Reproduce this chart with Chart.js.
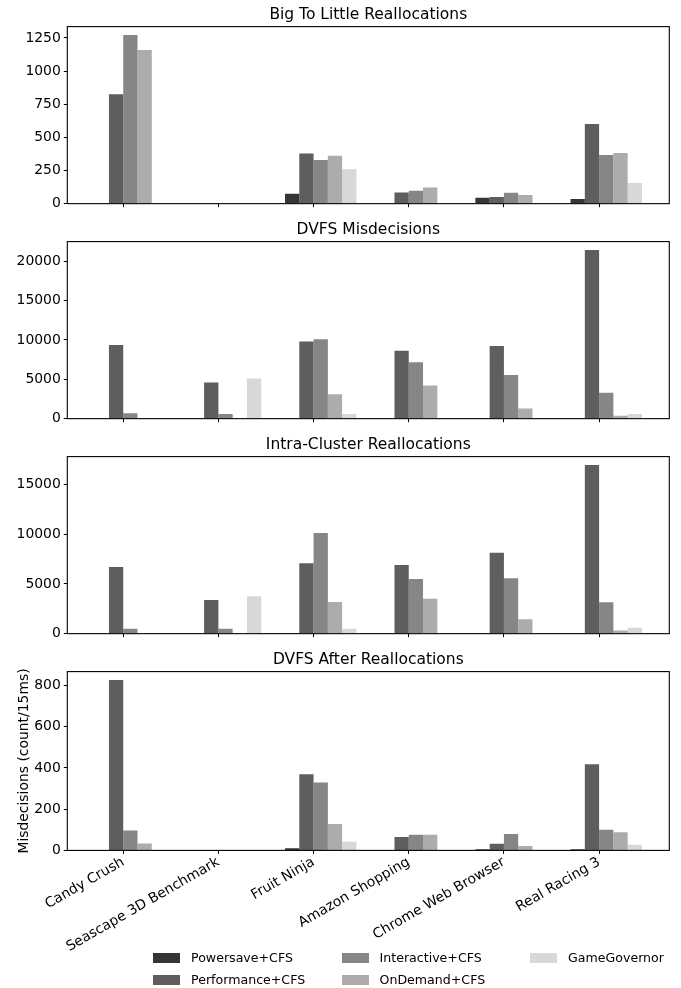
<!DOCTYPE html>
<html>
<head>
<meta charset="utf-8">
<script src="https://cdn.jsdelivr.net/npm/chart.js@4.4.1/dist/chart.umd.min.js"></script>
<style>
  body { margin: 0; background: #fff; font-family: "DejaVu Sans", sans-serif; }
  #page { position: relative; width: 681px; height: 988px; overflow: hidden; }
  canvas { position: absolute; left: 0; }
  .legend-item { position: absolute; height: 14px; font-size: 12.6px; color: #000; white-space: nowrap; }
  .legend-item span.sw { position: absolute; left: 0; top: 2px; width: 27px; height: 10px; }
  .legend-item span.tx { position: absolute; left: 38px; top: -2px; line-height: 18px; }
</style>
</head>
<body>
<div id="page">
  <canvas id="c0" width="681" height="215" style="top:0px"></canvas>
  <canvas id="c1" width="681" height="215" style="top:215px"></canvas>
  <canvas id="c2" width="681" height="215" style="top:430px"></canvas>
  <canvas id="c3" width="681" height="343" style="top:645px"></canvas>
  <div id="legend"></div>
</div>
<script>
(function () {
  const categories = ['Candy Crush', 'Seascape 3D Benchmark', 'Fruit Ninja', 'Amazon Shopping', 'Chrome Web Browser', 'Real Racing 3'];
  const seriesNames = ['Powersave+CFS', 'Performance+CFS', 'Interactive+CFS', 'OnDemand+CFS', 'GameGovernor'];
  const seriesColors = ['#353535', '#5e5e5e', '#868686', '#acacac', '#d8d8d8'];

  // Big To Little Reallocations
  const b2lPowersave   = [0, 0, 75, 0, 45, 35];
  const b2lPerformance = [826, 0, 379, 85, 50, 601];
  const b2lInteractive = [1272, 0, 329, 97, 82, 367];
  const b2lOnDemand    = [1160, 0, 362, 122, 65, 382];
  const b2lGame        = [0, 0, 259, 0, 0, 155];
  const b2lTicks       = [0, 250, 500, 750, 1000, 1250];

  // DVFS Misdecisions
  const dvfsPowersave   = [0, 0, 0, 0, 0, 0];
  const dvfsPerformance = [9350, 4590, 9810, 8640, 9230, 21420];
  const dvfsInteractive = [700, 580, 10100, 7180, 5550, 3300];
  const dvfsOnDemand    = [0, 0, 3090, 4220, 1290, 380];
  const dvfsGame        = [0, 5090, 580, 0, 0, 580];
  const dvfsTicks       = [0, 5000, 10000, 15000, 20000];

  // Intra-Cluster Reallocations
  const intraPowersave   = [0, 0, 0, 0, 0, 0];
  const intraPerformance = [6700, 3390, 7070, 6900, 8130, 16960];
  const intraInteractive = [500, 500, 10120, 5510, 5580, 3150];
  const intraOnDemand    = [0, 0, 3190, 3520, 1460, 330];
  const intraGame        = [0, 3750, 500, 0, 0, 600];
  const intraTicks       = [0, 5000, 10000, 15000];

  // DVFS After Reallocations
  const afterPowersave   = [0, 0, 10, 0, 6, 5];
  const afterPerformance = [826, 0, 369, 65, 32, 418];
  const afterInteractive = [96, 0, 329, 76, 79, 100];
  const afterOnDemand    = [34, 0, 128, 76, 21, 88];
  const afterGame        = [0, 0, 42, 0, 0, 28];
  const afterTicks       = [0, 200, 400, 600, 800];

  const panels = [
    { id: 'c0', title: 'Big To Little Reallocations', ticks: b2lTicks,
      series: [b2lPowersave, b2lPerformance, b2lInteractive, b2lOnDemand, b2lGame] },
    { id: 'c1', title: 'DVFS Misdecisions', ticks: dvfsTicks,
      series: [dvfsPowersave, dvfsPerformance, dvfsInteractive, dvfsOnDemand, dvfsGame] },
    { id: 'c2', title: 'Intra-Cluster Reallocations', ticks: intraTicks,
      series: [intraPowersave, intraPerformance, intraInteractive, intraOnDemand, intraGame] },
    { id: 'c3', title: 'DVFS After Reallocations', ticks: afterTicks, bottom: true,
      yLabel: 'Misdecisions (count/15ms)',
      series: [afterPowersave, afterPerformance, afterInteractive, afterOnDemand, afterGame] }
  ];

  const FONT = 'DejaVu Sans';
  Chart.defaults.font.family = FONT;
  Chart.defaults.color = '#000';

  const boxTop = 26.6;
  const boxHeight = 178.8;
  const axisWidth = 67.3;

  // frame round the plot area + panel title
  const framePlugin = {
    id: 'frame',
    afterDraw(chart, args, opts) {
      const { ctx, chartArea: a } = chart;
      ctx.save();
      ctx.strokeStyle = '#000';
      ctx.lineWidth = 1.1;
      ctx.strokeRect(a.left, a.top, a.right - a.left, a.bottom - a.top);
      ctx.fillStyle = '#000';
      ctx.font = '15.5px "' + FONT + '"';
      ctx.textAlign = 'center';
      ctx.textBaseline = 'alphabetic';
      ctx.fillText(opts.text, (a.left + a.right) / 2, a.top - 8);
      ctx.restore();
    }
  };

  function renderPanel(p) {
    const canvas = document.getElementById(p.id);
    const yMax = Math.max(...p.series.flat()) * 1.05;

    // first dataset is an empty spacer so the group sits like the matplotlib offset bars
    const datasets = [{ label: '', data: categories.map((c, i) => ({ x: i, y: null })), backgroundColor: 'rgba(0,0,0,0)' }];
    p.series.forEach((vals, k) => {
      datasets.push({
        label: seriesNames[k],
        data: vals.map((v, i) => ({ x: i, y: v })),
        backgroundColor: seriesColors[k],
        borderWidth: 0
      });
    });

    new Chart(canvas, {
      type: 'bar',
      data: { datasets: datasets },
      options: {
        responsive: false,
        animation: false,
        events: [],
        categoryPercentage: 0.9,
        barPercentage: 1.0,
        layout: { padding: { top: boxTop, right: 681 - 669.3, left: 0, bottom: 0 } },
        plugins: {
          legend: { display: false },
          tooltip: { enabled: false },
          frame: { text: p.title }
        },
        scales: {
          x: {
            type: 'linear',
            min: -0.5875,
            max: 5.7375,
            offset: false,
            afterBuildTicks: scale => {
              scale.ticks = categories.map((c, i) => ({ value: i }));
            },
            afterFit: scale => {
              scale.height = canvas.height - boxTop - boxHeight;
            },
            grid: { offset: false, drawOnChartArea: false, drawTicks: true, tickLength: 3.5, tickColor: '#000', tickWidth: 1 },
            border: { display: false },
            ticks: {
              autoSkip: false,
              maxRotation: 30,
              minRotation: 30,
              padding: 0,
              font: { size: 13.9 },
              color: '#000',
              display: !!p.bottom,
              callback: value => categories[value]
            }
          },
          y: {
            min: 0,
            max: yMax,
            afterBuildTicks: scale => {
              scale.ticks = p.ticks.map(v => ({ value: v }));
            },
            afterFit: scale => { scale.width = axisWidth; },
            grid: { drawOnChartArea: false, drawTicks: true, tickLength: 3.5, tickColor: '#000', tickWidth: 1 },
            border: { display: false },
            title: {
              display: !!p.yLabel,
              text: p.yLabel || '',
              font: { size: 13.9 },
              color: '#000',
              padding: { top: 16, bottom: 0 }
            },
            ticks: {
              padding: 3,
              font: { size: 13.9 },
              color: '#000',
              callback: value => String(value)
            }
          }
        }
      },
      plugins: [framePlugin]
    });
  }

  panels.forEach(renderPanel);

  // legend, three columns filled column by column
  const legendCols = [153, 341.5, 530];
  const legendRows = [953, 975];
  const legend = document.getElementById('legend');
  seriesNames.forEach((name, k) => {
    const item = document.createElement('div');
    item.className = 'legend-item';
    item.style.left = legendCols[Math.floor(k / 2)] + 'px';
    item.style.top = (legendRows[k % 2] - 2) + 'px';
    item.innerHTML = '<span class="sw" style="background:' + seriesColors[k] + '"></span><span class="tx">' + name + '</span>';
    legend.appendChild(item);
  });
})();
</script>
</body>
</html>
